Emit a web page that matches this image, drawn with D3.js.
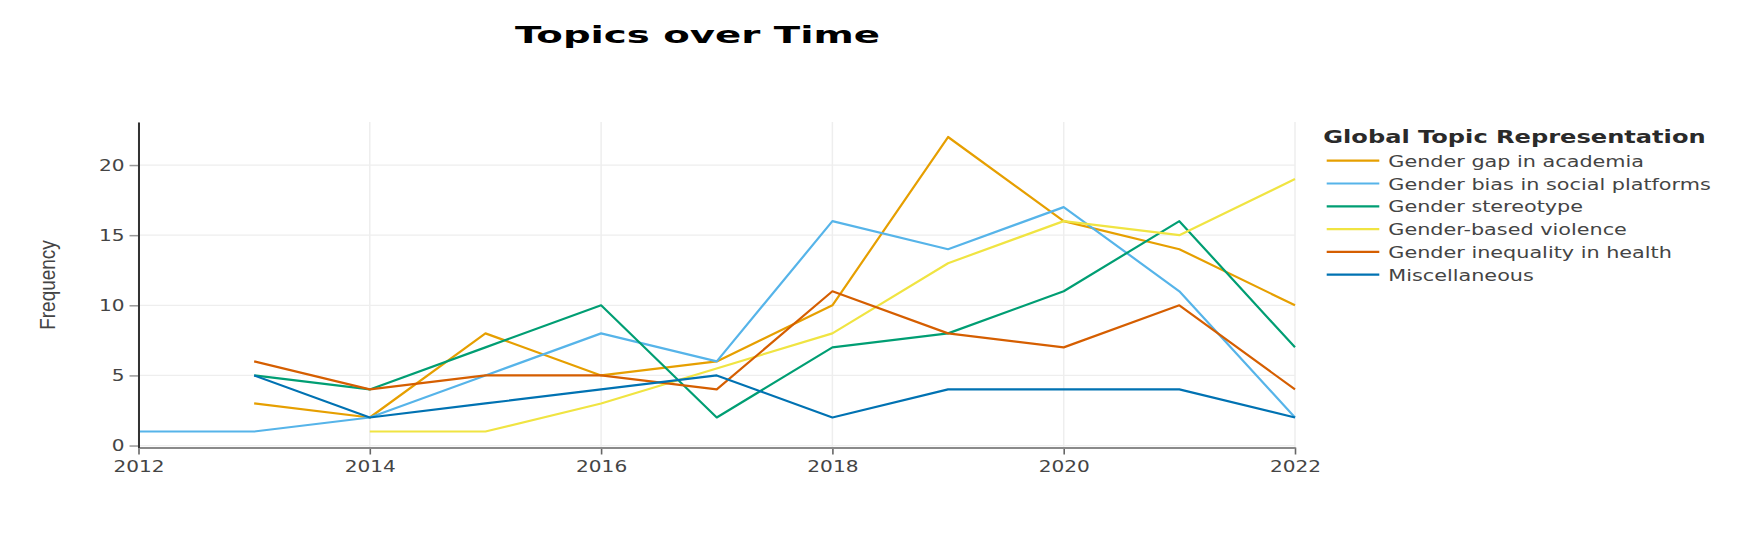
<!DOCTYPE html>
<html>
<head>
<meta charset="utf-8">
<script src="https://cdn.jsdelivr.net/npm/d3@7"></script>
<style>
  html, body { margin: 0; padding: 0; background: #fff; }
  svg { display: block; }
</style>
</head>
<body>
<svg id="chart" width="1743" height="545"></svg>
<script>
// ---------------- data ----------------
const years = [2012, 2013, 2014, 2015, 2016, 2017, 2018, 2019, 2020, 2021, 2022];
const topicNames = [
  "Gender gap in academia",
  "Gender bias in social platforms",
  "Gender stereotype",
  "Gender-based violence",
  "Gender inequality in health",
  "Miscellaneous"
];
const genderGapAcademia   = [null, 3, 2, 8, 5, 6, 10, 22, 16, 14, 10];
const genderBiasSocial    = [1, 1, 2, 5, 8, 6, 16, 14, 17, 11, 2];
const genderStereotype    = [null, 5, 4, 7, 10, 2, 7, 8, 11, 16, 7];
const genderViolence      = [null, null, 1, 1, 3, null, 8, 13, 16, 15, 19];
const genderHealth        = [null, 6, 4, 5, 5, 4, 11, 8, 7, 10, 4];
const miscellaneous       = [null, 5, 2, 3, 4, 5, 2, 4, 4, 4, 2];
const xTickValues = [2012, 2014, 2016, 2018, 2020, 2022];
const yTickValues = [0, 5, 10, 15, 20];
const colors = ["#E69F00", "#56B4E9", "#009E73", "#F0E442", "#D55E00", "#0072B2"];

const seriesValues = [genderGapAcademia, genderBiasSocial, genderStereotype,
                      genderViolence, genderHealth, miscellaneous];
const series = topicNames.map((name, i) => ({
  name,
  color: colors[i],
  points: years.map((yr, j) => ({ year: yr, value: seriesValues[i][j] }))
                .filter(p => p.value !== null)
}));

// ---------------- layout ----------------
const S = 1.34;            // horizontal text stretch of the reference
const svg = d3.select("#chart");
const x = d3.scaleLinear().domain([2012, 2022]).range([138.5, 1295]);
const y = d3.scaleLinear().domain([-0.14, 23.07]).range([447.5, 122]);

// grid
const grid = svg.append("g");
grid.selectAll("line.h").data(yTickValues).join("line")
  .attr("x1", x.range()[0]).attr("x2", x.range()[1])
  .attr("y1", d => y(d)).attr("y2", d => y(d))
  .attr("stroke", "#eeeeee").attr("stroke-width", 1.3);
grid.selectAll("line.v").data(xTickValues).join("line")
  .attr("x1", d => x(d)).attr("x2", d => x(d))
  .attr("y1", y.range()[1]).attr("y2", y.range()[0])
  .attr("stroke", "#eeeeee").attr("stroke-width", 1.5);

// lines
const line = d3.line().x(d => x(d.year)).y(d => y(d.value));
svg.append("g").selectAll("path").data(series).join("path")
  .attr("d", d => line(d.points))
  .attr("fill", "none")
  .attr("stroke", d => d.color)
  .attr("stroke-width", 2.2)
  .attr("stroke-linejoin", "round");

// x axis
const xAxis = svg.append("g")
  .attr("transform", `translate(0,${y.range()[0]})`)
  .call(d3.axisBottom(x).tickValues(xTickValues).tickFormat(d3.format("d"))
        .tickSize(7).tickSizeOuter(0));
xAxis.select(".domain").attr("stroke", "#8a8a8a").attr("stroke-width", 2);
xAxis.selectAll(".tick line").attr("stroke", "#666").attr("stroke-width", 1.6);
xAxis.selectAll(".tick text")
  .attr("y", 24.2).attr("dy", 0)
  .attr("transform", `scale(${S},1)`)
  .attr("fill", "#444")
  .style("font-family", "'DejaVu Sans', Verdana, sans-serif")
  .style("font-size", "15px");

// y axis
const yAxis = svg.append("g")
  .attr("transform", `translate(${x.range()[0]},0)`)
  .call(d3.axisLeft(y).tickValues(yTickValues).tickSize(9).tickSizeOuter(0));
yAxis.select(".domain").attr("stroke", "#333").attr("stroke-width", 2);
yAxis.selectAll(".tick line").attr("stroke", "#999").attr("stroke-width", 1.5);
yAxis.selectAll(".tick text")
  .attr("x", -14 / S).attr("dy", "0.36em")
  .attr("transform", `scale(${S},1)`)
  .attr("fill", "#444")
  .style("font-family", "'DejaVu Sans', Verdana, sans-serif")
  .style("font-size", "15px");
svg.selectAll(".domain").raise();

// y axis title
svg.append("text")
  .attr("transform", "translate(55,285) rotate(-90) scale(1,1.2)")
  .attr("text-anchor", "middle")
  .attr("fill", "#444")
  .style("font-family", "'Liberation Sans', Arial, sans-serif")
  .style("font-size", "19px")
  .text("Frequency");

// chart title
const title = svg.append("text")
  .attr("text-anchor", "middle")
  .attr("fill", "#000")
  .style("font-family", "'DejaVu Sans', Verdana, sans-serif")
  .style("font-weight", "bold")
  .style("font-size", "23px")
  .text("Topics over Time");
const tl = title.node().getComputedTextLength();
title.attr("transform", `translate(697.5,43) scale(${365 / tl},1)`);

// legend
const legend = svg.append("g");
legend.append("text")
  .attr("transform", `translate(1323.3,143.3) scale(${S},1)`)
  .attr("fill", "#2a2a2a")
  .style("font-family", "'DejaVu Sans', Verdana, sans-serif")
  .style("font-weight", "bold")
  .style("font-size", "18px")
  .text("Global Topic Representation");
const items = legend.selectAll("g.item").data(series).join("g")
  .attr("class", "item")
  .attr("transform", (d, i) => `translate(0,${160.7 + i * 22.8})`);
items.append("line")
  .attr("x1", 1326.7).attr("x2", 1379.3)
  .attr("stroke", d => d.color).attr("stroke-width", 2.2);
items.append("text")
  .attr("transform", `translate(1388.3,6) scale(${S},1)`)
  .attr("fill", "#444")
  .style("font-family", "'DejaVu Sans', Verdana, sans-serif")
  .style("font-size", "15.5px")
  .text(d => d.name);
</script>
</body>
</html>
